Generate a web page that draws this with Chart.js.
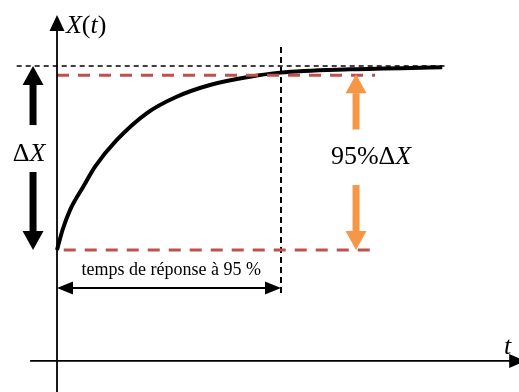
<!DOCTYPE html>
<html>
<head>
<meta charset="utf-8">
<script src="https://cdn.jsdelivr.net/npm/chart.js@4.4.1/dist/chart.umd.min.js"></script>
<style>
  html, body { margin: 0; padding: 0; background: #fff; }
  #wrap { width: 519px; height: 392px; }
</style>
</head>
<body>
<div id="wrap"><canvas id="stepChart"></canvas></div>
<script>
// temps (unité : t95 = 10) et réponse normalisée (0 = départ, 1 = valeur finale)
const timeValues = [0, 0.25, 0.58, 1.17, 1.70, 2.67, 4.0, 5.34, 6.83, 8.62, 9.96, 13.08, 17.2];
const responseValues = [0, 0.11, 0.217, 0.344, 0.453, 0.598, 0.743, 0.833, 0.897, 0.942, 0.964, 0.982, 0.993];

const finalValue = 1;
const level95 = 0.95;
const t95 = 10;

const axisLabels = ["X(t)", "t"];
const deltaLabel = "ΔX";
const deltaLabel95 = "95%ΔX";
const responseLabel = "temps de réponse à 95 %";

const BLACK = "#000000";
const RED = "#C0504D";
const ORANGE = "#F79646";

const curvePoints = timeValues.map(function (t, i) {
  return { x: t, y: responseValues[i] };
});

function seg(x1, y1, x2, y2) {
  return [{ x: x1, y: y1 }, { x: x2, y: y2 }];
}

function lineSet(data, color, width, dash) {
  return {
    data: data,
    borderColor: color,
    borderWidth: width,
    borderDash: dash || [],
    pointRadius: 0,
    fill: false,
    tension: 0,
  };
}

// ===== dessin des flèches et des textes =====
function arrowHead(ctx, x, y, angle, len, half) {
  ctx.save();
  ctx.translate(x, y);
  ctx.rotate(angle);
  ctx.beginPath();
  ctx.moveTo(0, 0);
  ctx.lineTo(-len, -half);
  ctx.lineTo(-len, half);
  ctx.closePath();
  ctx.fill();
  ctx.restore();
}

function blockArrow(ctx, x, yFrom, yTo, color) {
  var dir = yTo > yFrom ? 1 : -1;
  var headLen = 19, half = 10.5, shaft = 3.5;
  ctx.fillStyle = color;
  ctx.fillRect(x - shaft, Math.min(yFrom, yTo - dir * headLen), shaft * 2, Math.abs(yTo - dir * headLen - yFrom));
  ctx.beginPath();
  ctx.moveTo(x, yTo);
  ctx.lineTo(x - half, yTo - dir * headLen);
  ctx.lineTo(x + half, yTo - dir * headLen);
  ctx.closePath();
  ctx.fill();
}

function drawRuns(ctx, runs, x, y, align) {
  var total = 0;
  runs.forEach(function (r) {
    ctx.font = r.font;
    total += ctx.measureText(r.text).width;
  });
  var cx = align === "center" ? x - total / 2 : x;
  ctx.textBaseline = "middle";
  ctx.textAlign = "left";
  runs.forEach(function (r) {
    ctx.font = r.font;
    ctx.fillText(r.text, cx, y);
    cx += ctx.measureText(r.text).width;
  });
}

const decorPlugin = {
  id: "decor",
  afterDatasetsDraw: function (chart) {
    var ctx = chart.ctx;
    var sx = chart.scales.x, sy = chart.scales.y;
    var px = function (v) { return sx.getPixelForValue(v); };
    var py = function (v) { return sy.getPixelForValue(v); };
    var it = "italic 26px 'Liberation Serif'";
    var up = "26px 'Liberation Serif'";

    ctx.save();
    ctx.fillStyle = BLACK;

    // flèches des axes
    arrowHead(ctx, px(0), py(1.277), -Math.PI / 2, 16, 7.5);
    arrowHead(ctx, px(20.9), py(-0.603), 0, 16, 7);

    // double flèche du temps de réponse
    ctx.strokeStyle = BLACK;
    ctx.lineWidth = 2;
    ctx.beginPath();
    ctx.moveTo(px(0) + 8, py(-0.207));
    ctx.lineTo(px(t95) - 8, py(-0.207));
    ctx.stroke();
    arrowHead(ctx, px(0), py(-0.207), Math.PI, 16, 6.5);
    arrowHead(ctx, px(t95), py(-0.207), 0, 16, 6.5);

    // grosses flèches ΔX
    blockArrow(ctx, px(-1.07), py(0.679), py(finalValue), BLACK);
    blockArrow(ctx, px(-1.07), py(0.424), py(0), BLACK);

    // flèches 95 %
    blockArrow(ctx, px(13.35), py(0.655), py(level95) - 1, ORANGE);
    blockArrow(ctx, px(13.35), py(0.353), py(0), ORANGE);

    // textes
    ctx.fillStyle = BLACK;
    drawRuns(ctx, [
      { text: "X", font: it }, { text: "(", font: up },
      { text: "t", font: it }, { text: ")", font: up },
    ], px(0.4), py(1.217), "left");
    drawRuns(ctx, [{ text: axisLabels[1], font: it }], px(19.95), py(-0.53), "left");
    drawRuns(ctx, [{ text: "Δ", font: up }, { text: "X", font: it }], px(-1.25), py(0.522), "center");
    drawRuns(ctx, [{ text: "95%Δ", font: up }, { text: "X", font: it }], px(14.02), py(0.505), "center");
    drawRuns(ctx, [{ text: responseLabel, font: "18px 'Liberation Serif'" }], px(5.1), py(-0.11), "center");

    ctx.restore();
  },
};

new Chart(document.getElementById("stepChart"), {
  type: "line",
  data: {
    datasets: [
      // axes
      lineSet(seg(-1.2, -0.603, 20.5, -0.603), BLACK, 1.8),
      lineSet(seg(0, -0.78, 0, 1.2), BLACK, 1.8),
      // valeur finale
      lineSet(seg(-1.8, finalValue, 17.3, finalValue), BLACK, 1.6, [5, 4]),
      // niveaux 95 % et départ
      lineSet(seg(0, level95, 14.2, level95), RED, 3, [12, 9]),
      lineSet(seg(0.3, 0, 14.2, 0), RED, 3, [12, 9]),
      // verticale t95
      lineSet(seg(t95, 1.103, t95, -0.234), BLACK, 2, [6, 4]),
      // réponse
      {
        data: curvePoints,
        borderColor: BLACK,
        borderWidth: 4,
        pointRadius: 0,
        fill: false,
        cubicInterpolationMode: "monotone",
      },
    ],
  },
  options: {
    responsive: true,
    maintainAspectRatio: false,
    animation: false,
    layout: { padding: 0 },
    plugins: { legend: { display: false }, tooltip: { enabled: false } },
    scales: {
      x: { type: "linear", display: false, min: -2.545, max: 20.625 },
      y: { type: "linear", display: false, min: -0.7717, max: 1.3587 },
    },
  },
  plugins: [decorPlugin],
});
</script>
</body>
</html>
